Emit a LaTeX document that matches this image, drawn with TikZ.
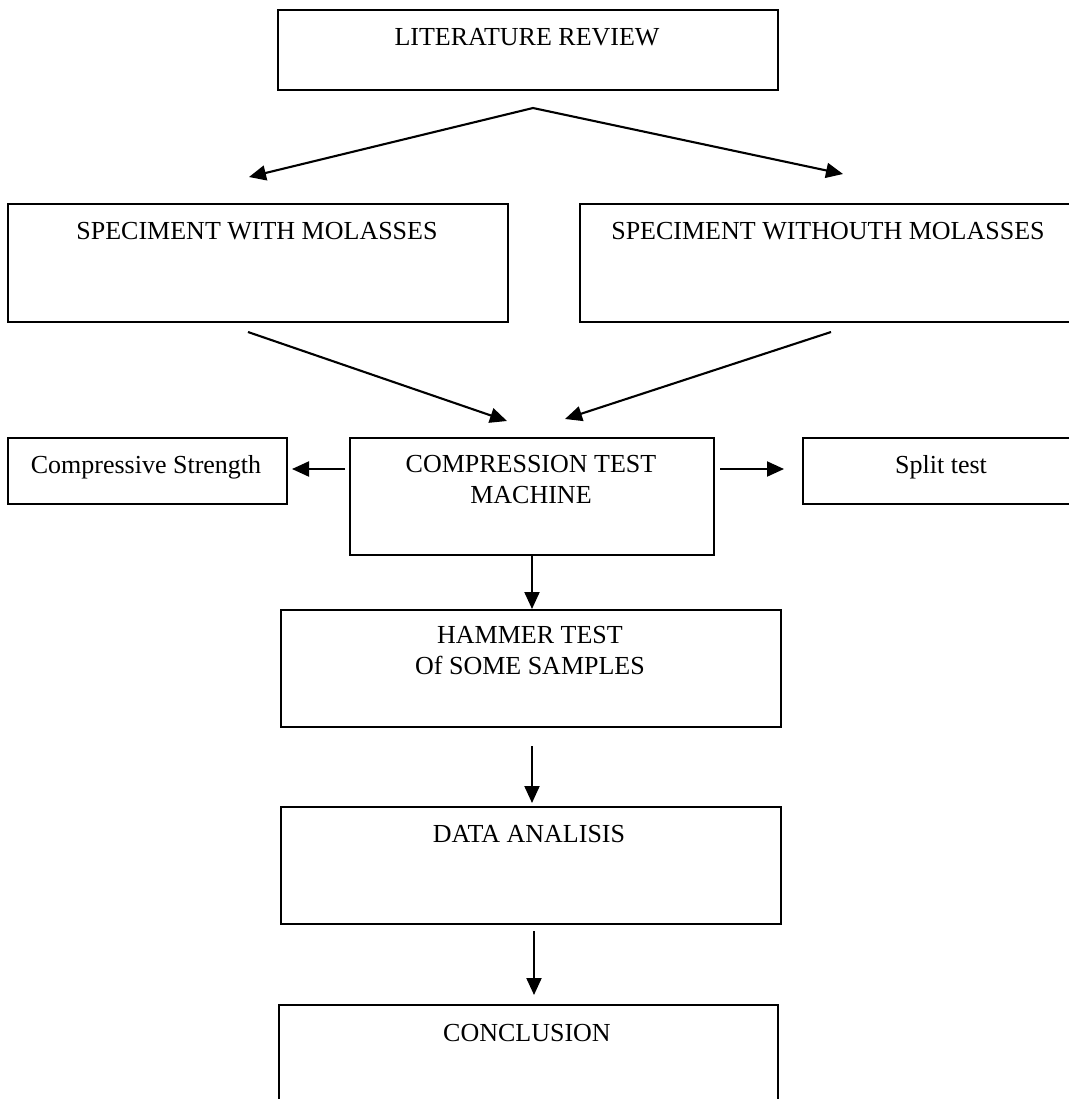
\documentclass[tikz,border=0pt]{standalone}
\usepackage{fontspec}
\setmainfont{Liberation Serif}
\usetikzlibrary{arrows.meta}
\begin{document}
\begin{tikzpicture}[x=0.5pt,y=-0.5pt,
  box/.style={draw=black, line width=0.8pt, rectangle, inner sep=0pt, anchor=north west},
  lbl/.style={anchor=base, inner sep=0pt, font=\fontsize{13}{15.25}\selectfont, align=center},
  conn/.style={line width=1.05pt, -{Triangle[length=8.5pt,width=7.5pt]}}
]
\useasboundingbox (0,0) rectangle (1069,1099);
\clip (0,0) rectangle (1069,1099);

% boxes
\node[box, minimum width=250pt, minimum height=40pt] (lit) at (277,9) {};
\node[box, minimum width=250pt, minimum height=59pt] (swith) at (7,203) {};
\node[box, minimum width=249.5pt, minimum height=59pt] (swo) at (579,203) {};
\node[box, minimum width=139.5pt, minimum height=33pt] (cs) at (7,437) {};
\node[box, minimum width=182pt, minimum height=58.5pt] (comp) at (349,437) {};
\node[box, minimum width=139pt, minimum height=33pt] (split) at (802,437) {};
\node[box, minimum width=250pt, minimum height=58.5pt] (hammer) at (280,609) {};
\node[box, minimum width=250pt, minimum height=58.5pt] (data) at (280,806) {};
\node[box, minimum width=249.5pt, minimum height=58.5pt] (concl) at (278,1004) {};

% texts (multi-line nodes are anchored at the baseline of their last line)
\node[lbl] (tlit) at (527,45) {LITERATURE REVIEW};
\node[lbl] (tswith) at (257,239) {SPECIMENT WITH MOLASSES};
\node[lbl] (tswo) at (828,239) {SPECIMENT WITHOUTH MOLASSES};
\node[lbl] (tcs) at (146,473) {Compressive Strength};
\node[lbl] (tcomp) at (531,503) {COMPRESSION TEST\\MACHINE};
\node[lbl] (tsplit) at (941,473) {Split test};
\node[lbl] (thammer) at (530,674) {HAMMER TEST\\Of SOME SAMPLES};
\node[lbl] (tdata) at (529,842) {DATA ANALISIS};
\node[lbl] (tconcl) at (527,1041) {CONCLUSION};

% connector end points
\coordinate (apex) at (533,108);
\coordinate (swithin) at (249,177);
\coordinate (swoin) at (843,174);
\coordinate (swithout) at (248,332);
\coordinate (swoout) at (831,332);
\coordinate (compinL) at (507,421);
\coordinate (compinR) at (565,419);
\coordinate (compL) at (345,469);
\coordinate (csin) at (292,469);
\coordinate (compR) at (720,469);
\coordinate (splitin) at (784,469);
\coordinate (compB) at (532,554);
\coordinate (hammerin) at (532,609);
\coordinate (hammerout) at (532,746);
\coordinate (datain) at (532,803);
\coordinate (dataout) at (534,931);
\coordinate (conclin) at (534,995);

\draw[conn] (apex) -- (swithin);
\draw[conn] (apex) -- (swoin);
\draw[conn] (swithout) -- (compinL);
\draw[conn] (swoout) -- (compinR);
\draw[conn] (compL) -- (csin);
\draw[conn] (compR) -- (splitin);
\draw[conn] (compB) -- (hammerin);
\draw[conn] (hammerout) -- (datain);
\draw[conn] (dataout) -- (conclin);
\end{tikzpicture}
\end{document}
